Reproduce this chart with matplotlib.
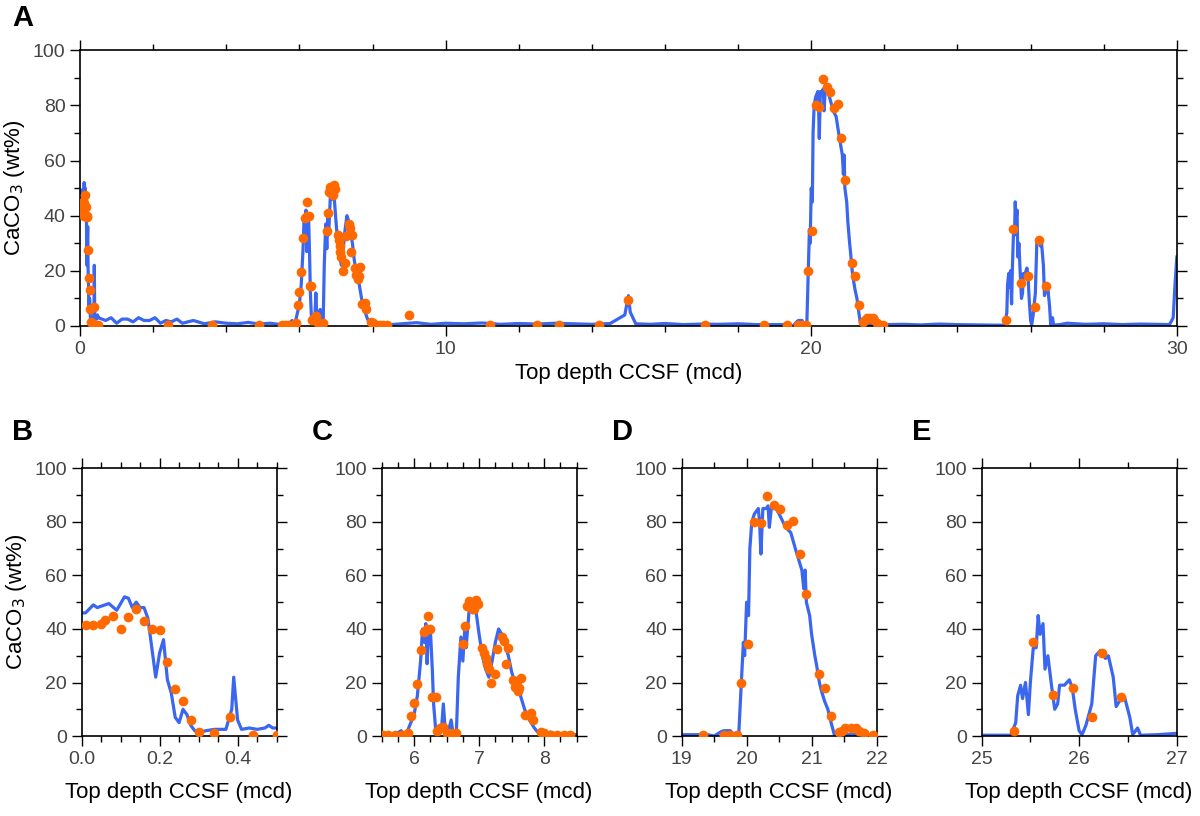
import matplotlib
matplotlib.use("Agg")
import matplotlib.pyplot as plt
from matplotlib.ticker import MultipleLocator

plt.rcParams['font.family'] = ['Liberation Sans', 'DejaVu Sans']

# ---- blue high-resolution CaCO3 record (depth, wt%) ----
seg_b_x = [0.0,0.01,0.03,0.04,0.06,0.07,0.09,0.11,0.12,0.13,0.14,0.15,0.16,0.17,0.18,0.19,0.20,0.21,0.22,0.23,0.24,0.25,0.26,0.27,0.28,0.29,0.30,0.32,0.34,0.37,0.385,0.39,0.40,0.41,0.43,0.45,0.47,0.48,0.49,0.5]
seg_b_y = [46,46,49,48,49,49.5,47,52,51.5,48,50,48,48,44,33,22,31,36,21,16,7,5,10,8,4,2,1.5,2,2.5,2.5,10,22,6,2.5,3,2.5,3,4,3,3]
seg_1_x = [0.7,0.85,1.0,1.15,1.3,1.45,1.6,1.75,1.9,2.05,2.2,2.35,2.5,2.65,2.8,3.1,3.4,3.7,4.0,4.3,4.6,4.9,5.2,5.5]
seg_1_y = [2,3,1,2.5,2.5,1.5,3,2,2,3,1,2,1.5,2.5,1,2,0.8,1.5,1,0.8,1.3,0.7,1,0.5]
seg_c_x = [5.7,5.8,5.85,5.9,5.95,6.0,6.05,6.1,6.13,6.16,6.18,6.2,6.22,6.25,6.28,6.3,6.33,6.38,6.42,6.45,6.48,6.52,6.57,6.6,6.65,6.68,6.72,6.75,6.78,6.8,6.85,6.9,6.95,7.0,7.05,7.1,7.15,7.2,7.25,7.3,7.35,7.4,7.45,7.5,7.55,7.6,7.65,7.7,7.75,7.8,7.85,7.9,8.0,8.1,8.15,8.5]
seg_c_y = [0.5,2,0.5,2,5,8,15,28,40,35,42,27,38,40,25,12,3,1,2,12,2,1,6,1,1,22,37,28,40,33,48,46,47,38,30,25,22,28,35,40,38,34,30,24,20,18,14,10,7,5,3,1.5,0.5,1.5,0.5,0.5]
seg_2_x = [8.8,9.2,9.6,10.0,10.5,11.0,11.5,12.0,12.5,13.0,13.5,14.0,14.5,14.9,15.0,15.05,15.2,15.6,16.0,16.5,17.0,17.5,18.0,18.5,19.0]
seg_2_y = [0.8,1.2,0.6,1.0,0.8,1.1,0.6,0.9,0.7,1.0,0.8,0.6,0.9,4,11,5,0.8,0.6,0.9,0.5,0.7,0.6,0.8,0.5,0.5]
seg_d_x = [19.4,19.5,19.6,19.65,19.75,19.8,19.88,19.92,19.95,19.97,20.0,20.03,20.05,20.08,20.12,20.18,20.2,20.22,20.25,20.3,20.33,20.35,20.38,20.45,20.5,20.6,20.68,20.75,20.8,20.85,20.88,20.9,20.92,20.97,21.0,21.05,21.08,21.12,21.15,21.2,21.25,21.3,21.35,21.5,22.0]
seg_d_y = [0.5,0,1.5,2,2,0.5,1,20,35,30,50,45,70,80,83,85,80,68,85,85,86,78,85,85,83,78,76,70,66,62,55,62,50,45,38,30,26,20,17,13,10,5,0.5,0.5,0.5]
seg_3_x = [22.5,23.0,23.5,24.0,24.5,25.0,25.3]
seg_3_y = [0.6,0.4,0.7,0.5,0.4,0.3,0.3]
seg_e_x = [25.35,25.37,25.4,25.42,25.45,25.48,25.5,25.53,25.56,25.58,25.6,25.63,25.65,25.68,25.72,25.75,25.78,25.8,25.85,25.9,25.93,25.96,26.0,26.03,26.07,26.1,26.13,26.17,26.22,26.27,26.3,26.35,26.38,26.43,26.47,26.52,26.55,26.6,26.63,26.8,27.0]
seg_e_y = [5,15,19,14,20,8,20,33,33,45,38,42,25,30,18,10,12,19,19,21,18,10,2,0.5,4,8,12,30,32,29,30,22,11,14,14,7,0.5,3,0.3,0.5,1]
seg_4_x = [27.5,28.0,28.5,29.0,29.5,29.8,29.9,29.95,30.0]
seg_4_y = [0.6,0.8,0.5,0.7,0.6,0.5,3,15,25]
line_x = seg_b_x + seg_1_x + seg_c_x + seg_2_x + seg_d_x + seg_3_x + seg_e_x + seg_4_x
line_y = seg_b_y + seg_1_y + seg_c_y + seg_2_y + seg_d_y + seg_3_y + seg_e_y + seg_4_y

# ---- orange discrete measurements ----
pt_x = [0.01,0.03,0.05,0.06,0.08,0.10,0.12,0.14,0.16,0.18,0.20,0.22,0.24,0.26,0.28,0.30,0.34,0.38,0.44,0.50,
        2.4,3.6,4.9,
        5.52,5.6,5.7,5.82,5.9,5.95,6.0,6.05,6.1,6.15,6.2,6.22,6.25,6.28,6.33,6.35,6.4,6.45,6.5,6.6,6.65,6.75,6.78,6.82,6.85,6.88,6.9,6.92,6.95,6.98,7.05,7.08,7.1,7.12,7.15,7.18,7.25,7.28,7.35,7.38,7.42,7.45,7.52,7.55,7.58,7.6,7.62,7.65,7.7,7.75,7.8,7.83,7.95,8.0,8.1,8.2,8.3,8.4,
        9.0,11.2,12.5,13.1,14.2,15.0,17.1,18.7,
        19.33,19.65,19.75,19.85,19.92,20.02,20.12,20.22,20.32,20.42,20.52,20.62,20.72,20.82,20.92,21.12,21.2,21.3,21.42,21.47,21.52,21.6,21.68,21.73,21.8,21.95,
        25.33,25.53,25.73,25.94,26.13,26.23,26.43]
pt_y = [41.5,41.5,42,43.5,45,40,44.5,47.5,43,40,39.5,27.5,17.5,13,6,1.5,1,7,0.5,0.5,
        0.3,0.3,0.3,
        0.5,0.5,0.5,0.5,1,7.5,12.5,19.5,32,39,40,45,40,14.5,14.5,2,3,3.5,1,1,1,34.5,41,48.5,50.5,48,50,47.5,51,49.5,33,31,29,27,25,20,23,32.5,37,35.5,27,33,21,18.5,20.5,17,18,21.5,8,8,8.5,6,1.5,1,0.5,0.5,0.5,0.5,
        4,0.5,0.5,0.3,0.3,9.5,0.3,0.3,
        0.5,0.5,0.5,0.5,20,34.5,80,79.5,89.5,86.5,85,79,80.5,68,53,23,18,7.5,1.5,2,3,3,3,2,1,0.5,
        2,35,15.5,18,7,31,14.5]

BLUE = "#3a66f0"
ORANGE = "#ff6a00"
TXT = "#444444"

fig = plt.figure(figsize=(12, 8.16), dpi=100)
axA = fig.add_axes([0.0667, 0.6005, 0.914, 0.338])
axB = fig.add_axes([0.068, 0.098, 0.1625, 0.328])
axC = fig.add_axes([0.318, 0.098, 0.1625, 0.328])
axD = fig.add_axes([0.568, 0.098, 0.1625, 0.328])
axE = fig.add_axes([0.818, 0.098, 0.1625, 0.328])

specs = [(axA, (0, 30), 10, 2, None),
         (axB, (0, 0.5), 0.2, 0.05, "%.1f"),
         (axC, (5.5, 8.5), 1, 0.25, None),
         (axD, (19, 22), 1, 0.5, None),
         (axE, (25, 27), 1, 0.5, None)]
for ax, xl, maj, mnr, fmt in specs:
    ax.plot(line_x, line_y, color=BLUE, lw=2.3, zorder=2)
    ax.plot(pt_x, pt_y, 'o', color=ORANGE, ms=7, mec='none', zorder=3)
    ax.set_xlim(*xl)
    ax.set_ylim(0, 100)
    ax.xaxis.set_major_locator(MultipleLocator(maj))
    ax.xaxis.set_minor_locator(MultipleLocator(mnr))
    ax.yaxis.set_major_locator(MultipleLocator(20))
    ax.yaxis.set_minor_locator(MultipleLocator(10))
    if fmt:
        ax.xaxis.set_major_formatter(plt.FormatStrFormatter(fmt))
    ax.tick_params(which='both', direction='out', top=True, right=True,
                   labelsize=14, labelcolor=TXT, width=1)
    ax.tick_params(which='major', length=7)
    ax.tick_params(which='minor', length=4)
    for s in ax.spines.values():
        s.set_linewidth(1.2)
    ax.set_xlabel("Top depth CCSF (mcd)", fontsize=16, labelpad=10)

axA.set_ylabel(r"CaCO$_3$ (wt%)", fontsize=16)
axB.set_ylabel(r"CaCO$_3$ (wt%)", fontsize=16)
axA.xaxis.labelpad = 4

for lbl, (x, y) in zip("ABCDE", [(12, 18), (12, 432), (312, 432), (612, 432), (912, 432)]):
    fig.text(x / 1200, 1 - y / 816, lbl, fontsize=21, fontweight='bold', va='center', ha='left')

fig.savefig("out.png", dpi=100)
